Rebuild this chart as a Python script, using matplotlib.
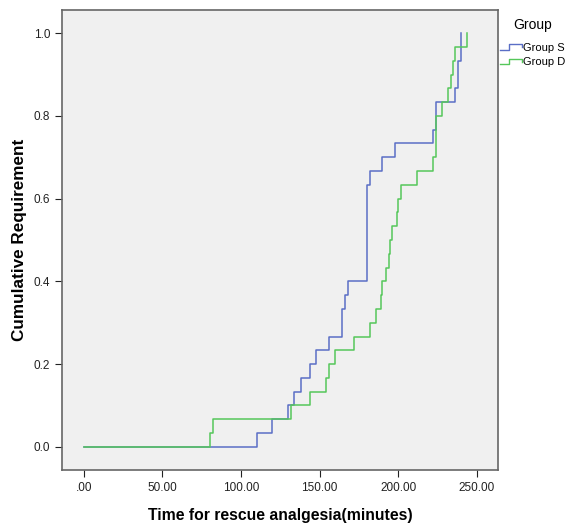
import numpy as np
import matplotlib.pyplot as plt
from matplotlib.lines import Line2D
from matplotlib.legend_handler import HandlerLine2D

plt.rcParams["font.family"] = ["Liberation Sans", "DejaVu Sans"]

# event times (minutes) and number of patients at each time, n = 30 per group
s_times = [110, 120, 130, 134, 138, 144, 148, 156, 164, 166, 168, 180, 182, 190,
           198, 222, 224, 236, 238, 240]
s_counts = [1, 1, 1, 1, 1, 1, 1, 1, 2, 1, 1, 7, 1, 1, 1, 1, 2, 1, 2, 2]

d_times = [80, 82, 132, 144, 154, 156, 160, 172, 182, 186, 189, 190, 192, 194,
           195, 196, 199, 200, 202, 212, 222, 224, 228, 232, 234, 235, 236, 244]
d_counts = [1, 1, 1, 1, 1, 1, 1, 1, 1, 1, 1, 1, 1, 1,
            1, 1, 1, 1, 1, 1, 1, 3, 1, 1, 1, 1, 1, 1]

n_total = 30
x_ticks = [0, 50, 100, 150, 200, 250]
x_labels = [".00", "50.00", "100.00", "150.00", "200.00", "250.00"]
y_ticks = [0.0, 0.2, 0.4, 0.6, 0.8, 1.0]


class StepHandler(HandlerLine2D):
    # small step glyph like the SPSS legend
    def create_artists(self, legend, orig_handle, xdescent, ydescent,
                       width, height, fontsize, trans):
        xs = np.array([0, 0.4, 0.4, 1.0, 1.0]) * width - xdescent
        ys = np.array([0.15, 0.15, 0.85, 0.85, 0.5]) * height - ydescent
        ln = Line2D(xs, ys, color=orig_handle.get_color(), lw=1.0)
        ln.set_transform(trans)
        return [ln]


fig = plt.figure(figsize=(5.67, 5.25), dpi=100)
ax = fig.add_axes([0.1093, 0.1048, 0.7687, 0.8762])
ax.set_facecolor("#f0f0f0")

def cum_line(times, counts):
    x = [0] + list(times)
    y = [0] + list(np.cumsum(counts) / n_total)
    return x, y

sx, sy = cum_line(s_times, s_counts)
dx, dy = cum_line(d_times, d_counts)
ls, = ax.step(sx, sy, where="post", color="#5a6ec6", lw=1.1, label="Group S")
ld, = ax.step(dx, dy, where="post", color="#55c75a", lw=1.1, label="Group D")

ax.set_xlim(-14, 263.5)
ax.set_ylim(-0.056, 1.056)
ax.set_xticks(x_ticks)
ax.set_xticklabels(x_labels)
ax.set_yticks(y_ticks)
ax.set_yticklabels(["%.1f" % v for v in y_ticks])
ax.tick_params(labelsize=8.5, colors="#222222", length=5, width=0.8, direction="out")
for sp in ax.spines.values():
    sp.set_color("#666666")
    sp.set_linewidth(1.2)

ax.set_xlabel("Time for rescue analgesia(minutes)", fontsize=11.3, fontweight="bold", labelpad=10)
ax.set_ylabel("Cumulative Requirement", fontsize=12.3, fontweight="bold", labelpad=5)

fig.text(533 / 567, 1 - 25 / 525, "Group", fontsize=10, ha="center", va="center")
leg = fig.legend(handles=[ls, ld], loc="upper left",
                 bbox_to_anchor=(500 / 567, 1 - 43 / 525), frameon=False,
                 fontsize=8, handlelength=2.0,
                 handletextpad=0.1, borderaxespad=0, borderpad=0,
                 labelspacing=0.4, handler_map={Line2D: StepHandler()})

fig.savefig("out.png", dpi=100)
